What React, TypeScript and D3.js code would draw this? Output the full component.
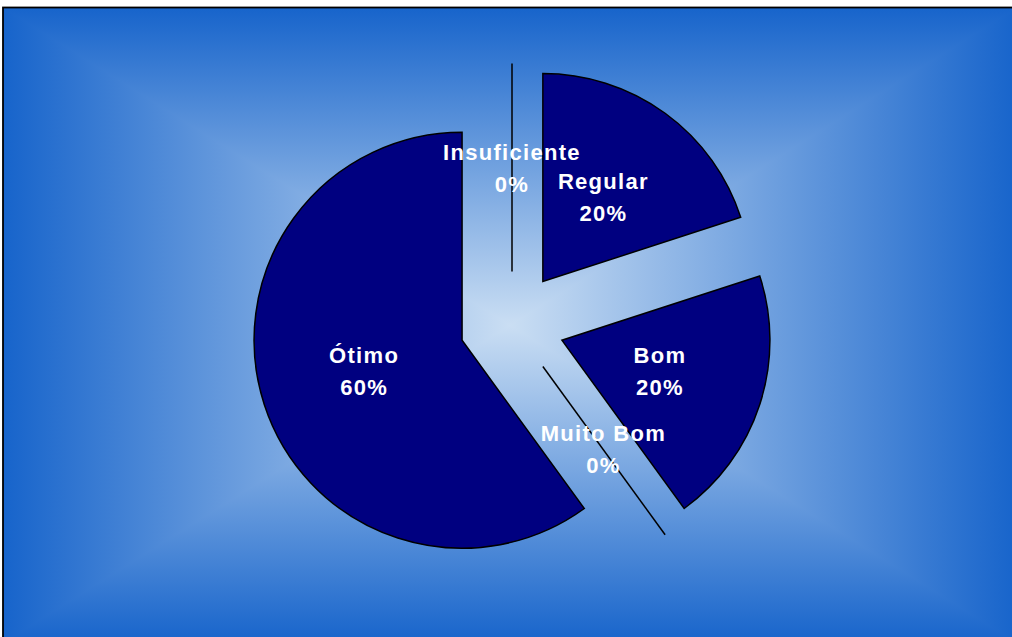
import React from "react";
import * as d3 from "d3";

const categories = ["Insuficiente", "Regular", "Bom", "Muito Bom", "Ótimo"];
const values = [0, 20, 20, 0, 60];
const percentLabels = ["0%", "20%", "20%", "0%", "60%"];

const W = 1012;
const H = 637;

export default function App() {
  const cx = 512;
  const cy = 324;
  const r = 208;
  const explode = 52.5;
  const labelR = 103;

  const pie = d3.pie<number>().sort(null).value((d) => d)(values);
  const arc = d3.arc<d3.PieArcDatum<number>>().innerRadius(0).outerRadius(r);

  // background box
  const bx0 = 3, by0 = 7.5, bx1 = 1017, by1 = 643;
  const gx = (bx0 + bx1) / 2, gy = (by0 + by1) / 2;
  const edge = "#1764cb";
  const center = "#cadef3";

  const tri = (pts: number[][]) => "M" + pts.map((p) => p.join(",")).join("L") + "Z";

  return (
    <svg
      width={W}
      height={H}
      style={{ position: "fixed", left: 0, top: 0, display: "block", background: "#fff" }}
      fontFamily="'Liberation Sans', Arial, sans-serif"
    >
      <defs>
        <linearGradient id="gTop" gradientUnits="userSpaceOnUse" x1={0} y1={by0} x2={0} y2={gy}>
          <stop offset="0" stopColor={edge} />
          <stop offset="1" stopColor={center} />
        </linearGradient>
        <linearGradient id="gBot" gradientUnits="userSpaceOnUse" x1={0} y1={by1} x2={0} y2={gy}>
          <stop offset="0" stopColor={edge} />
          <stop offset="1" stopColor={center} />
        </linearGradient>
        <linearGradient id="gLeft" gradientUnits="userSpaceOnUse" x1={bx0} y1={0} x2={gx} y2={0}>
          <stop offset="0" stopColor={edge} />
          <stop offset="1" stopColor={center} />
        </linearGradient>
        <linearGradient id="gRight" gradientUnits="userSpaceOnUse" x1={bx1} y1={0} x2={gx} y2={0}>
          <stop offset="0" stopColor={edge} />
          <stop offset="1" stopColor={center} />
        </linearGradient>
      </defs>
      <g shapeRendering="crispEdges">
        <path d={tri([[bx0, by0], [bx1, by0], [gx, gy]])} fill="url(#gTop)" />
        <path d={tri([[bx0, by1], [bx1, by1], [gx, gy]])} fill="url(#gBot)" />
        <path d={tri([[bx0, by0], [bx0, by1], [gx, gy]])} fill="url(#gLeft)" />
        <path d={tri([[bx1, by0], [bx1, by1], [gx, gy]])} fill="url(#gRight)" />
      </g>
      <rect x={bx0} y={by0} width={bx1 - bx0} height={by1 - by0} fill="none" stroke="#000" strokeWidth={1.8} />

      {pie.map((p, i) => {
        const mid = (p.startAngle + p.endAngle) / 2;
        const ox = cx + explode * Math.sin(mid);
        const oy = cy - explode * Math.cos(mid);
        const isZero = p.endAngle - p.startAngle < 1e-6;
        return (
          <g key={categories[i]}>
            {isZero ? (
              <line
                x1={ox}
                y1={oy}
                x2={ox + r * Math.sin(mid)}
                y2={oy - r * Math.cos(mid)}
                stroke="#000"
                strokeWidth={1.5}
              />
            ) : (
              <path
                d={arc(p) || ""}
                transform={`translate(${ox},${oy})`}
                fill="#000080"
                stroke="#000"
                strokeWidth={1.5}
                strokeLinejoin="miter"
              />
            )}
          </g>
        );
      })}
      {pie.map((p, i) => {
        const mid = (p.startAngle + p.endAngle) / 2;
        const ox = cx + explode * Math.sin(mid);
        const oy = cy - explode * Math.cos(mid);
        const lx = ox + labelR * Math.sin(mid);
        const ly = oy - labelR * Math.cos(mid);
        return (
          <text
            key={"l" + categories[i]}
            x={lx}
            y={ly}
            textAnchor="middle"
            fill="#fff"
            fontWeight="bold"
            fontSize={22}
            letterSpacing={1.3}
          >
            <tspan x={lx} dy={-9}>{categories[i]}</tspan>
            <tspan x={lx} dy={32}>{percentLabels[i]}</tspan>
          </text>
        );
      })}
    </svg>
  );
}
